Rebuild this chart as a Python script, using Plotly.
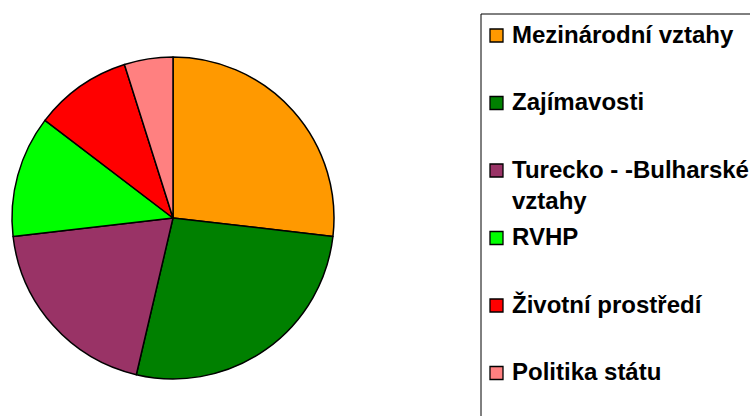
import plotly.graph_objects as go

W, H = 750, 416

labels = ["Mezinárodní vztahy", "Zajímavosti", "Turecko - -Bulharské vztahy",
          "RVHP", "Životní prostředí", "Politika státu"]
legend_text = ["Mezinárodní vztahy", "Zajímavosti", "Turecko - -Bulharské<br>vztahy",
               "RVHP", "Životní prostředí", "Politika státu"]
values = [11, 11, 8, 5, 4, 2]
colors = ["#FF9900", "#008000", "#993366", "#00FF00", "#FF0000", "#FF8080"]

def px(x):
    return x / W

def py(y):
    return 1 - y / H

fig = go.Figure()
fig.add_trace(go.Pie(
    labels=labels, values=values, sort=False, direction="clockwise", rotation=0,
    marker=dict(colors=colors, line=dict(color="black", width=1.5)),
    textinfo="none", hoverinfo="label+value", showlegend=False,
    domain=dict(x=[px(12), px(334)], y=[py(380), py(56)]),
))

shapes = [dict(type="rect", xref="paper", yref="paper",
               x0=px(481), x1=px(770), y0=py(14), y1=py(440),
               line=dict(color="black", width=1), fillcolor="rgba(0,0,0,0)")]
annotations = []
FS = 24
for i, (t, c) in enumerate(zip(legend_text, colors)):
    base = 43 + 67.5 * i
    mc = base - 7.5
    shapes.append(dict(type="rect", xref="paper", yref="paper",
                       x0=px(490), x1=px(503), y0=py(mc - 6.5), y1=py(mc + 6.5),
                       line=dict(color="black", width=1.3), fillcolor=c))
    annotations.append(dict(xref="paper", yref="paper", x=px(510), y=py(base - 24.5),
                            xanchor="left", yanchor="top", showarrow=False, align="left",
                            text="<b>" + t + "</b>",
                            font=dict(family="Liberation Sans, Arial", size=FS, color="black")))

fig.update_layout(
    width=W, height=H, margin=dict(l=0, r=0, t=0, b=0),
    paper_bgcolor="white", plot_bgcolor="white",
    shapes=shapes, annotations=annotations, showlegend=False,
)
fig.write_html("out.html", config={"displayModeBar": False},
               post_script="document.body.style.margin='0';")
